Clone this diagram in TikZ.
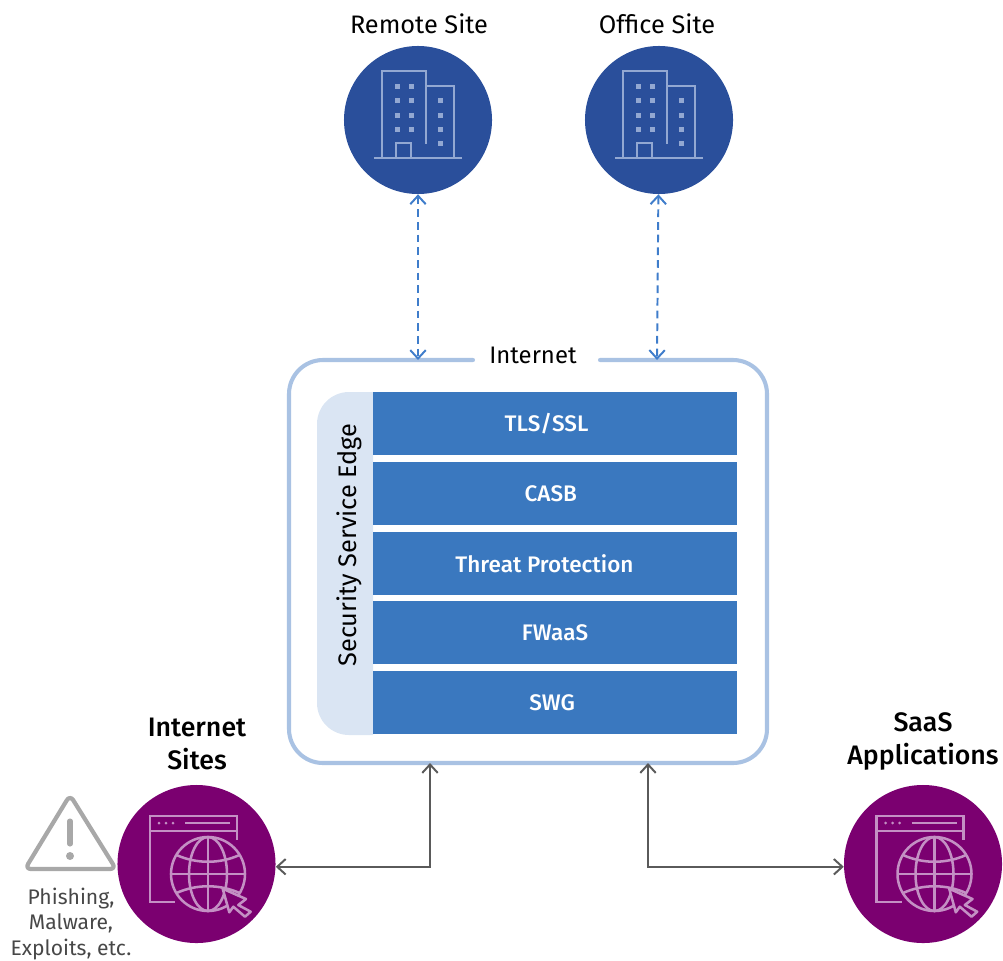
\documentclass[tikz,border=0pt]{standalone}
\usepackage{fontspec}
\setmainfont{Fira Sans}
\newfontfamily\medfont{Fira Sans Medium}
\usetikzlibrary{arrows.meta}
\definecolor{sitefill}{HTML}{2A4F9B}
\definecolor{siteicon}{HTML}{93A8D2}
\definecolor{webfill}{HTML}{7B0070}
\definecolor{webicon}{HTML}{C490C4}
\definecolor{framecol}{HTML}{A9C2E3}
\definecolor{panelcol}{HTML}{DAE5F3}
\definecolor{stripcol}{HTML}{3A78BF}
\definecolor{dashcol}{HTML}{3F7DCB}
\definecolor{linkcol}{HTML}{5A5A5A}
\definecolor{warncol}{HTML}{A8A8A8}
\tikzset{
    sitecircle/.style={circle, fill=sitefill, minimum size=3.7cm, inner sep=0pt},
    webcircle/.style={circle, fill=webfill, minimum size=3.95cm, inner sep=0pt},
    stripbox/.style={fill=stripcol, text=white, minimum width=9.1cm, minimum height=1.575cm, inner sep=0pt, font=\fontsize{16}{17}\selectfont\medfont},
    sitelabel/.style={font=\fontsize{18}{20}\selectfont, inner sep=0pt},
    weblabel/.style={font=\fontsize{19}{23.5}\selectfont\medfont, align=center, inner sep=0pt},
    dashlink/.style={dashcol, line width=1.4pt, dashed, dash pattern=on 5.5pt off 3.5pt, {Straight Barb[length=6pt,width=11pt]}-{Straight Barb[length=6pt,width=11pt]}},
    greylink/.style={linkcol, line width=1.4pt, {Straight Barb[length=6pt,width=11pt]}-{Straight Barb[length=6pt,width=11pt]}},
    building/.pic={
        \draw[siteicon, line width=2pt] (-36,38)--(-36,-49)--(8,-49)--(8,24);
        \draw[siteicon, line width=2pt] (8,-34)--(36,-34)--(36,38);
        \draw[siteicon, line width=2pt] (-44,38)--(44,38);
        \draw[siteicon, line width=2pt] (-22,38)--(-22,23)--(-7,23)--(-7,38);
        \foreach \wx in {-21,-7} \foreach \wy in {-34,-20,-5,9}
            \fill[siteicon] (\wx-2.5,\wy-2.5) rectangle (\wx+2.5,\wy+2.5);
        \foreach \wy in {-20,-5,9,23}
            \fill[siteicon] (22-2.5,\wy-2.5) rectangle (22+2.5,\wy+2.5);
    },
    webglobe/.pic={
        \draw[webicon, line width=1.8pt] (-21.5,38)--(-46.5,38)--(-46.5,-48)--(40.5,-48)--(40.5,-24);
        \draw[webicon, line width=1.8pt] (-46.5,-33)--(40.5,-33);
        \draw[webicon, line width=1.8pt] (-11.5,-41)--(33.5,-41);
        \foreach \dx in {-37.5,-30.5,-23.5} \fill[webicon] (\dx,-41) circle (1.5);
        % globe
        \draw[webicon, line width=1.8pt] (11.5,10) circle (37);
        \draw[webicon, line width=1.8pt] (11.5,10) ellipse [x radius=19, y radius=37];
        \draw[webicon, line width=1.8pt] (11.5,-27)--(11.5,47) (-25.5,10)--(48.5,10);
        \draw[webicon, line width=1.8pt] (-20,-9) .. controls (0,0) and (23,0) .. (43,-9);
        \draw[webicon, line width=1.8pt] (-20,29) .. controls (0,20) and (23,20) .. (43,29);
        % cursor
        \draw[webicon, fill=webfill, line width=1.8pt, line join=round] (26.2,24.7)--(49.5,35)--(41.8,41)--(54.2,47.7)--(48.5,52.7)--(36.8,42.7)--(32.8,48.3)--cycle;
    }
}
\begin{document}
\begin{tikzpicture}[x=0.025cm, y=-0.025cm]
    \useasboundingbox (0,0) rectangle (1003,960);

    % Sites on top
    \node[sitecircle] (remote) at (418,120) {};
    \node[sitecircle] (office) at (659,120) {};
    \pic at (remote) {building};
    \pic at (office) {building};
    \node[sitelabel] (remotelabel) at (419,24) {Remote Site};
    \node[sitelabel] (officelabel) at (657,24) {Office Site};

    % Frame with its gap
    \draw[framecol, line width=2.9pt, line cap=round, rounded corners=0.85cm] (473,360) -| (289,763) -| (767,360) -- (600,360);
    \node[sitelabel, font=\fontsize{17}{20}\selectfont] (internet) at (533,355) {Internet};
    \coordinate (framea) at (418,360); \coordinate (frameb) at (657,360);
    \coordinate (framec) at (430,763); \coordinate (framed) at (648,763);

    % Stack
    \fill[panelcol, rounded corners=0.8cm] (373,392) -- (317,392) -- (317,735) -- (373,735);
    \node[sitelabel, rotate=90] (sselabel) at (349,545) {Security Service Edge};
    \foreach \n/\y/\off/\txt in {a/423.5/12/{TLS/SSL},b/493.5/6/CASB,c/563.5/15/Threat Protection,d/632.5/0/FWaaS,e/702.5/4/SWG}
        \node[stripbox] (strip\n) at (555,\y) {\txt\kern\off pt};

    % Sites below
    \node[webcircle] (websites) at (196.5,864) {};
    \node[webcircle] (saas) at (923,864) {};
    \pic at (websites) {webglobe};
    \pic at (saas) {webglobe};
    \node[weblabel] (websiteslabel) at (197,744) {Internet\\Sites};
    \node[weblabel] (saaslabel) at (923,741) {SaaS\\Applications};

    % Warning
    \draw[warncol, line width=3pt, line join=round, rounded corners=0.15cm] (70,795) -- (116,869) -- (25,869) -- cycle;
    \draw[warncol, line width=3.6pt, line cap=round] (70,821) -- (70,844);
    \fill[warncol] (70,856) circle (4);
    \node[font=\fontsize{15}{17.8}\selectfont, text=black!72, align=center, inner sep=0pt] (threats) at (71,924) {Phishing,\\Malware,\\Exploits, etc.};

    % Connectors
    \draw[dashlink] (remote) -- (framea);
    \draw[dashlink] (office) -- (frameb);
    \draw[greylink] (websites.-2) -| (framec);
    \draw[greylink] (framed) |- (saas.182);
\end{tikzpicture}
\end{document}
